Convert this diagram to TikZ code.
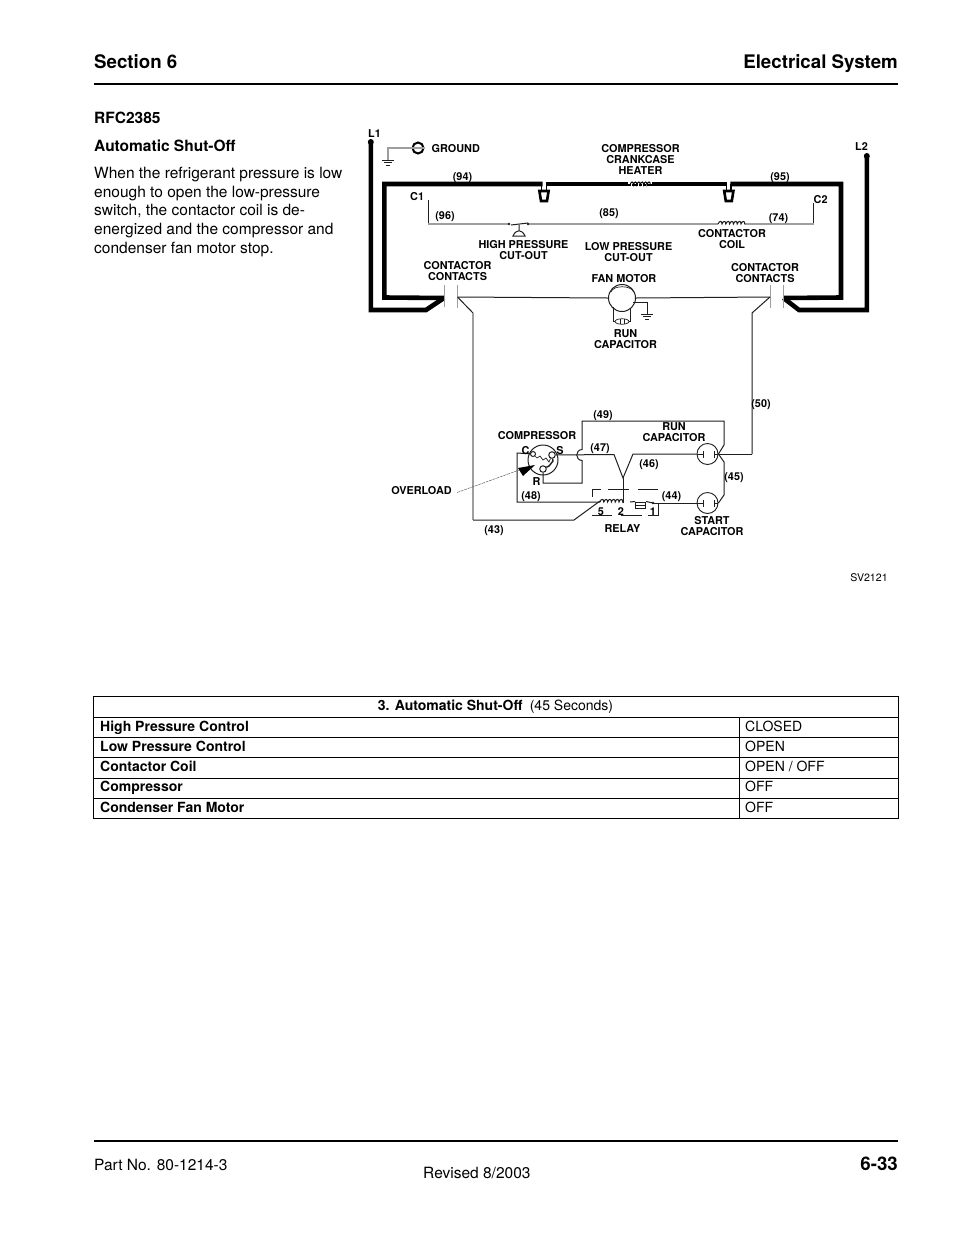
\documentclass[tikz,border=0pt]{standalone}
\usepackage{fontspec}
\usetikzlibrary{shapes.geometric}
\setmainfont{TeX Gyre Heros}
\definecolor{wiregray}{gray}{0.62}
\definecolor{inkgray}{gray}{0.12}
\tikzset{
  lbl/.style={inner sep=0pt,align=center,yshift=-.7pt,font=\fontsize{10.85}{11}\selectfont\bfseries,text=black},
  body/.style={inner sep=0pt,anchor=base west,font=\fontsize{15.5}{18}\selectfont,text=black},
  bodyb/.style={body,font=\fontsize{15.5}{18}\selectfont\bfseries},
  head/.style={inner sep=0pt,font=\fontsize{18.7}{22}\selectfont\bfseries,text=black},
  cell/.style={inner sep=0pt,anchor=base west,font=\fontsize{14}{17}\selectfont,text=black},
  cellb/.style={cell,font=\fontsize{14}{17}\selectfont\bfseries},
  power/.style={line width=4.6pt,black,line join=miter,line cap=butt},
  ctrl/.style={line width=1.7pt,wiregray},
  thin wire/.style={line width=1pt,inkgray},
  gray wire/.style={line width=1pt,wiregray},
  capcircle/.style={circle,draw=inkgray,line width=.9pt,minimum size=21pt,inner sep=0pt,fill=white},
  term/.style={circle,draw=inkgray,line width=1pt,minimum size=6.5pt,inner sep=0pt,fill=white},
  rule/.style={line width=2pt,black},
  grid/.style={line width=.8pt,black},
}
\begin{document}
\begin{tikzpicture}[x=1pt,y=-1pt]
\useasboundingbox[fill=white] (0,0) rectangle (954,1235);
% page furniture
\node[head,anchor=base west] (sec) at (94,68) {Section 6};
\node[head,anchor=base east] (sys) at (898,68) {Electrical System};
\coordinate (hl) at (94,84); \coordinate (hr) at (898,84);
\draw[rule] (hl) -- (hr);
\coordinate (fl) at (94,1141); \coordinate (fr) at (898,1141);
\draw[rule] (fl) -- (fr);
\node[body] (part) at (94,1170) {Part No. 80-1214-3};
\node[body] (rev) at (423,1178) {Revised 8/2003};
\node[head,anchor=base east] (pg) at (898,1170) {6-33};
% left text
\node[bodyb] (rfc) at (94,123) {RFC2385};
\node[bodyb] (aso) at (94,151.5) {Automatic Shut-Off};
\node[body] (p1) at (94,178) {When the refrigerant pressure is low};
\node[body] (p2) at (94,197) {enough to open the low-pressure};
\node[body] (p3) at (94,215.5) {switch, the contactor coil is de-};
\node[body] (p4) at (94,234) {energized and the compressor and};
\node[body] (p5) at (94,253) {condenser fan motor stop.};

% ---- power wiring
\coordinate (L1) at (370.8,142);
\coordinate (L2) at (866.8,156);
\fill (L1) circle (3pt); \fill (L2) circle (3pt);
\coordinate (cl1) at (444,298); \coordinate (cr1) at (783.5,298);
\draw[power] (L1) -- (370.8,310) -- (426,310) -- (cl1);
\draw[power] (L2) -- (866.8,310) -- (799,310) -- (cr1);
\draw[power] (cl1) -- (384.3,297.5) -- (384.3,184) -- (542.5,184);
\draw[power] (545.5,184) -- (628,184);
\draw[power] (652,184) -- (727.3,184);
\draw[power] (730.3,184) -- (841,184) -- (841,297.5) -- (cr1);
% fuses
\foreach \fx/\nm in {544/fa,728.8/fb}{
  \coordinate (\nm) at (\fx,196);
  \draw[line width=2.6pt,black,fill=white,line join=miter]
    ([xshift=-4.6pt,yshift=5pt]\nm) -- ([xshift=4.6pt,yshift=5pt]\nm) -- ([xshift=3pt,yshift=-5pt]\nm) -- ([xshift=-3pt,yshift=-5pt]\nm) -- cycle;
  \draw[line width=1.3pt,black] ([xshift=-2.2pt,yshift=12pt]\nm) -- ([xshift=-2.2pt,yshift=5pt]\nm);
  \draw[line width=1.3pt,black] ([xshift=2.2pt,yshift=12pt]\nm) -- ([xshift=2.2pt,yshift=5pt]\nm);
}
% heater
\coordinate (hta) at (628,185); \coordinate (htb) at (652,185);
\draw[line width=1pt,black] (630,185) \foreach \i in {0,...,5}{ .. controls (631+3.4*\i,181) and (633.4+3.4*\i,181) .. (633.4+3.4*\i,185) } ;
\draw[line width=2.6pt,black,dash pattern=on 3pt off .7pt] (hta) -- (htb);
% ---- control circuit
\coordinate (c1t) at (428,200); \coordinate (c1b) at (428,224);
\coordinate (c2t) at (813.5,203); \coordinate (c2b) at (813.5,224);
\coordinate (swa) at (509,224); \coordinate (swb) at (528,224);
\coordinate (cla) at (718,224); \coordinate (clb) at (745,224);
\draw[thin wire] (c1t) -- (c1b);
\draw[thin wire] (c2t) -- (c2b);
\draw[ctrl] (c1b) -- (swa);
\draw[ctrl] (swb) -- (cla);
\draw[ctrl] (clb) -- (c2b);
\fill[inkgray] (swa) circle (1.3pt) (swb) circle (1.3pt);
\draw[thin wire] (511,225) -- (528,223);
\draw[thin wire] (519,224.5) -- (519,230) (513,236) .. controls (516,229) and (522,229) .. (525,236) -- cycle;
\draw[thin wire] (cla) \foreach \i in {0,...,6}{ .. controls (719.5+3.8*\i,220.5) and (722+3.8*\i,220.5) .. (722+3.8*\i,224) } -- (clb);
% ---- contacts and load line
\coordinate (plL1) at (444,285); \coordinate (plL2) at (444,307);
\coordinate (plL3) at (457.5,285); \coordinate (plL4) at (457.5,308);
\coordinate (plR1) at (770,285); \coordinate (plR2) at (770,308);
\coordinate (plR3) at (783.5,285); \coordinate (plR4) at (783.5,308);
\foreach \a/\b in {plL1/plL2,plL3/plL4,plR1/plR2,plR3/plR4}{\draw[gray wire] (\a) -- (\b);}
\coordinate (nl) at (457.5,297); \coordinate (nr) at (770,297);
\node[circle,draw=inkgray,line width=1pt,minimum size=27pt,inner sep=0pt,fill=white] (fan) at (622,298) {};
\draw[thin wire] (nl) -- (fan.west);
\draw[thin wire] (fan.east) -- (nr);
\draw[line width=.7pt,inkgray] (611,292) .. controls (613,285) and (631,285) .. (634,292);
% fan capacitor + ground
\coordinate (fg0) at (633,302); \coordinate (fg1) at (647,302); \coordinate (fg2) at (647,314);
\draw[thin wire] (fg0) -- (fg1) -- (fg2);
\foreach \w/\dy in {6/0,4/2.6,2/5.2}{\draw[line width=.9pt,inkgray] ([xshift=-\w pt,yshift=-\dy pt]fg2) -- ([xshift=\w pt,yshift=-\dy pt]fg2);}
\node[draw=inkgray,line width=.7pt,ellipse,minimum width=14pt,minimum height=5.5pt,inner sep=0pt] (fcap) at (622,321.5) {};
\draw[thin wire] (613,307) -- (613,321.5) -- (fcap.west);
\draw[thin wire] (630,308) -- (630,321.5) -- (fcap.east);
\draw[line width=.6pt,inkgray] (620,319) -- (620,324) (624,319) -- (624,324);
% chassis ground
\node[circle,draw=black,line width=2pt,minimum size=11pt,inner sep=0pt] (gnd) at (418,148) {};
\draw[line width=1.2pt,wiregray] (gnd.west) -- (gnd.east);
\coordinate (gn1) at (388,148); \coordinate (gn2) at (388,160);
\draw[gray wire,line width=1.1pt] (gnd.west) -- (gn1) -- (gn2);
\foreach \w/\dy in {6/0,4/2.8,2/5.6}{\draw[line width=.9pt,inkgray] ([xshift=-\w pt,yshift=-\dy pt]gn2) -- ([xshift=\w pt,yshift=-\dy pt]gn2);}

% ---- compressor section
\coordinate (dl1) at (473,313); \coordinate (dl2) at (473,520); \coordinate (dl3) at (574,520); \coordinate (dl4) at (600,501);
\coordinate (dr1) at (752,313); \coordinate (dr2) at (752,454);
\draw[thin wire] (nl) -- (dl1);
\draw[gray wire,line width=1.7pt] (dl1) -- (dl2);
\draw[thin wire] (dl2) -- (dl3) -- (dl4);
\draw[thin wire] (nr) -- (dr1) -- (dr2);
\node[capcircle] (rc) at (707.5,454) {};
\node[capcircle] (sc) at (707.5,503) {};
\foreach \c in {rc,sc}{
  \draw[thin wire] (\c.west) -- ([xshift=-4.3pt]\c.center);
  \draw[line width=.9pt,inkgray] ([xshift=-4.3pt,yshift=-3.5pt]\c.center) -- ([xshift=-4.3pt,yshift=3.5pt]\c.center);
  \draw[line width=.9pt,inkgray] ([xshift=6.5pt,yshift=-3.5pt]\c.center) -- ([xshift=6.5pt,yshift=3.5pt]\c.center);
  \draw[thin wire] ([xshift=6.5pt]\c.center) -- (\c.east);
}
\draw[thin wire] (dr2) -- (rc.east);
% compressor
\node[circle,draw=inkgray,line width=1pt,minimum size=30pt,inner sep=0pt] (comp) at (543,460) {};
\node[term,minimum size=5pt] (tC) at (533,454) {};
\node[term] (tS) at (552,455) {};
\node[term] (tR) at (543,469) {};
\draw[line width=.7pt,inkgray] (tC) -- (537,458) -- (540,456) -- (543,460) -- (546,458) -- (549,462) -- (tS);
\draw[line width=1.4pt,inkgray] (tR) -- (549,466) -- (553,461) -- (tS);
% wire 48
\coordinate (w48a) at (517,453); \coordinate (w48b) at (517,502); \coordinate (w48c) at (600,502);
\draw[thin wire] (tC) -- (w48a) -- (w48b) -- (w48c);
% wire 49
\coordinate (w49a) at (582,483); \coordinate (w49b) at (582,460.5); \coordinate (w49c) at (582,449.5);
\coordinate (w49d) at (582,421); \coordinate (w49e) at (724,421); \coordinate (w49f) at (724,445);
\draw[thin wire] (tR) -- (543,483) -- (w49a) -- (w49b) .. controls (575,460) and (575,450) .. (w49c) -- (w49d) -- (w49e) -- (w49f) -- (rc.east);
% wire 47
\coordinate (w47c) at (614,454.5); \coordinate (ymid) at (623,478); \coordinate (w46a) at (633,454);
\coordinate (rl2) at (623,503);
\draw[thin wire] (tS) -- (w47c) -- (ymid) -- (w46a) -- (rc.west);
\draw[thin wire] (ymid) -- (rl2);
% relay coil
\draw[thin wire] (600,502) \foreach \i in {0,...,5}{ .. controls (601+3.8*\i,498.5) and (603.8+3.8*\i,498.5) .. (603.8+3.8*\i,502) } -- (rl2);
% relay contact + 1
\node[draw=inkgray,line width=1pt,minimum width=10pt,minimum height=6pt,inner sep=0pt] (rbox) at (640.6,505) {};
\coordinate (rl1) at (653,503);
\draw[thin wire] (630,502) -- (rbox.north west);
\draw[thin wire] (rbox.north east) -- (rl1);
\draw[thin wire] (rbox.west) -- (rbox.east);
\fill[inkgray] (rl1) circle (1.3pt);
\draw[thin wire] (rl1) -- (sc.west);
% start to run capacitor link
\coordinate (lk1) at (724,495); \coordinate (lk2) at (724,462);
\draw[thin wire] (sc.east) -- (lk1) -- (lk2) -- (rc.east);
% relay dashed box
\draw[thin wire] (592,497) -- (592,489) -- (601,489);
\draw[thin wire] (608,489) -- (629,489);
\draw[thin wire] (638,489) -- (658,489);
\draw[thin wire] (658,503) -- (658,515.5) -- (648,515.5);
\draw[thin wire] (642,515.5) -- (621,515.5);
\draw[thin wire] (612,515.5) -- (592,515.5);
% overload
\coordinate (ov) at (457,492.5);
\draw[line width=.5pt,inkgray!70,dash pattern=on 3pt off .8pt] (ov) -- (522,469);
\fill[black] (518,468) -- (535,465) -- (523,476) -- cycle;

% ---- labels
\node[lbl,anchor=west] (tL1) at (368,132.5) {L1};
\node[lbl,anchor=west] (tL2) at (855,146) {L2};
\node[lbl,anchor=west] (tG) at (431.5,148) {GROUND};
\node[lbl] (tHeat) at (640.5,159) {COMPRESSOR\\CRANKCASE\\HEATER};
\node[lbl] (t94) at (462.5,177) {(94)};
\node[lbl] (t95) at (780,176.5) {(95)};
\node[lbl,anchor=west] (tC1) at (410,195.5) {C1};
\node[lbl,anchor=west] (tC2) at (813.5,198.5) {C2};
\node[lbl] (t96) at (445,215.5) {(96)};
\node[lbl] (t85) at (609,212.5) {(85)};
\node[lbl] (t74) at (778.5,218) {(74)};
\node[lbl] (tHP) at (523.5,249.5) {HIGH PRESSURE\\CUT-OUT};
\node[lbl] (tLP) at (628.5,251.5) {LOW PRESSURE\\CUT-OUT};
\node[lbl] (tCC) at (732,238.5) {CONTACTOR\\COIL};
\node[lbl] (tCCl) at (457.5,270.5) {CONTACTOR\\CONTACTS};
\node[lbl] (tCCr) at (765,272.5) {CONTACTOR\\CONTACTS};
\node[lbl] (tFan) at (624,278) {FAN MOTOR};
\node[lbl] (tRCf) at (625.5,338.5) {RUN\\CAPACITOR};
\node[lbl] (t49) at (603,414.5) {(49)};
\node[lbl] (t50) at (761,403.5) {(50)};
\node[lbl] (tRCc) at (674,431) {RUN\\CAPACITOR};
\node[lbl] (tComp) at (537,435) {COMPRESSOR};
\node[lbl] (t47) at (600,447.5) {(47)};
\node[lbl] (t46) at (649,463.5) {(46)};
\node[lbl] (t45) at (734,477) {(45)};
\node[lbl] (tc) at (525.5,449.5) {C};
\node[lbl] (ts) at (560,449.5) {S};
\node[lbl] (tr) at (536.5,480.5) {R};
\node[lbl] (tOv) at (421.5,489.5) {OVERLOAD};
\node[lbl] (t48) at (531,495.5) {(48)};
\node[lbl] (t44) at (671.5,495.5) {(44)};
\node[lbl] (t5) at (601,510.5) {5};
\node[lbl] (t2) at (621,510.5) {2};
\node[lbl] (t1) at (653,510.5) {1};
\node[lbl] (t43) at (494,529.5) {(43)};
\node[lbl] (tRel) at (622.5,528) {RELAY};
\node[lbl] (tSC) at (712,525.5) {START\\CAPACITOR};
\node[inner sep=0pt,font=\fontsize{10.6}{11}\selectfont] (sv) at (869,577.5) {SV2121};

% ---- table
\node[draw=black,line width=.8pt,inner sep=0pt,minimum width=805pt,minimum height=122pt] (tab) at (496,757) {};
\coordinate (colT) at (739.5,717); \coordinate (colB) at (739.5,818);
\draw[grid] (colT) -- (colB);
\foreach \yy/\nm in {717/ra,737.5/rb,757.5/rc2,778/rd,798/re}{
  \coordinate (\nm l) at (93.5,\yy); \coordinate (\nm r) at (898.5,\yy);
  \draw[grid] (\nm l) -- (\nm r);
}
\node[cell,anchor=base] (tt) at (495.5,710) {\textbf{3. Automatic Shut-Off}\hspace{.25em} (45 Seconds)};
\node[cellb] (a1) at (100,731) {High Pressure Control}; \node[cell] (b1) at (745,731) {CLOSED};
\node[cellb] (a2) at (100,751) {Low Pressure Control}; \node[cell] (b2) at (745,751) {OPEN};
\node[cellb] (a3) at (100,771.5) {Contactor Coil}; \node[cell] (b3) at (745,771.5) {OPEN / OFF};
\node[cellb] (a4) at (100,791.5) {Compressor}; \node[cell] (b4) at (745,791.5) {OFF};
\node[cellb] (a5) at (100,812) {Condenser Fan Motor}; \node[cell] (b5) at (745,812) {OFF};
\end{tikzpicture}
\end{document}
